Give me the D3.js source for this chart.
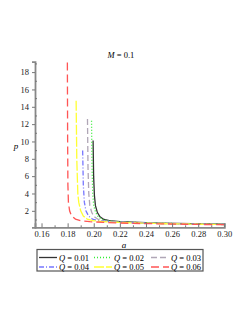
<!DOCTYPE html>
<html>
<head>
<meta charset="utf-8">
<script src="https://cdn.jsdelivr.net/npm/d3@7"></script>
<style>
  body { margin: 0; background: #fff; }
  svg text { font-family: "Liberation Serif", "DejaVu Serif", serif; }
</style>
</head>
<body>
<div id="chart"></div>
<script>
// values, (a, p) pairs per Q
var qLabels = ["0.01", "0.02", "0.03", "0.04", "0.05", "0.06"];
var q001 = [[0.1995,10.1],[0.1999,6],[0.2005,3.8],[0.2013,2.6],[0.2028,1.8],[0.2048,1.3],[0.2078,1.0],[0.212,0.86],[0.22,0.74],[0.25,0.57],[0.30,0.45]];
var q002 = [[0.1983,12.4],[0.1987,7],[0.1992,4],[0.2000,2.6],[0.2015,1.8],[0.2035,1.3],[0.2065,1.0],[0.211,0.85],[0.22,0.72],[0.25,0.56],[0.30,0.44]];
var q003 = [[0.1952,12.6],[0.1956,7],[0.1962,4],[0.1970,2.6],[0.1985,1.8],[0.2005,1.3],[0.2035,1.0],[0.208,0.85],[0.22,0.7],[0.25,0.55],[0.30,0.43]];
var q004 = [[0.1915,8.95],[0.1920,5],[0.1928,3],[0.1940,2.0],[0.1960,1.4],[0.1990,1.05],[0.203,0.88],[0.21,0.78],[0.23,0.62],[0.26,0.5],[0.30,0.42]];
var q005 = [[0.1865,14.7],[0.1870,8],[0.1878,4],[0.1885,3],[0.1900,2.0],[0.1920,1.4],[0.1950,1.05],[0.200,0.85],[0.21,0.72],[0.23,0.6],[0.26,0.5],[0.30,0.42]];
var q006 = [[0.1798,19.1],[0.1800,10],[0.1802,5],[0.1806,3],[0.1815,2.0],[0.1830,1.4],[0.1860,1.05],[0.190,0.85],[0.197,0.75],[0.21,0.65],[0.23,0.55],[0.25,0.5],[0.27,0.45],[0.30,0.4]];
var xTicks = [0.16, 0.18, 0.20, 0.22, 0.24, 0.26, 0.28, 0.30];
var yTicks = [2, 4, 6, 8, 10, 12, 14, 16, 18];

var series = [q001, q002, q003, q004, q005, q006];
var colors = ["#333333", "#33ee33", "#b0a6b6", "#7777ff", "#ffff33", "#ff5555"];
var dashes = ["none", "1,2", "6,3", "5,2,1,2", "10,2", "8,4"];

var width = 249, height = 323;
var svg = d3.select("#chart").append("svg")
    .attr("width", width)
    .attr("height", height);

var x = d3.scaleLinear().domain([0.155, 0.30]).range([35, 224.3]);
var y = d3.scaleLinear().domain([0.1, 19.2]).range([227.3, 61.7]);

// curves first, axes on top
var line = d3.line()
    .x(function(d){ return x(d[0]); })
    .y(function(d){ return y(d[1]); });

svg.selectAll(".curve").data(series).enter()
    .append("path")
    .attr("class", "curve")
    .attr("d", line)
    .attr("fill", "none")
    .attr("stroke", function(d, i){ return colors[i]; })
    .attr("stroke-width", 1.3)
    .attr("stroke-dasharray", function(d, i){ return dashes[i]; });

// x axis
svg.append("g")
    .attr("transform", "translate(0," + y.range()[0] + ")")
    .call(d3.axisBottom(x).tickValues(xTicks).tickSize(-4).tickPadding(4).tickFormat(d3.format(".2f")));
svg.append("g")
    .attr("transform", "translate(0," + y.range()[0] + ")")
    .call(d3.axisBottom(x).tickValues(d3.range(0.17, 0.30, 0.02)).tickSize(-2).tickFormat(""))
    .select(".domain").remove();

// y axis
svg.append("g")
    .attr("transform", "translate(" + x.range()[0] + ",0)")
    .call(d3.axisLeft(y).tickValues(yTicks).tickSize(3).tickPadding(3));
svg.append("g")
    .attr("transform", "translate(" + x.range()[0] + ",0)")
    .call(d3.axisLeft(y).tickValues(d3.range(1, 20, 2)).tickSize(-2).tickFormat(""))
    .select(".domain").remove();

svg.selectAll(".domain").attr("stroke", "#888").attr("stroke-width", 1.8);
svg.selectAll(".tick line").attr("stroke", "#777");
svg.selectAll(".tick text").attr("font-size", 8.5).attr("fill", "#222");
svg.selectAll("g").attr("font-family", null);

// labels
svg.append("text").attr("x", 121).attr("y", 58).attr("text-anchor", "middle")
    .attr("font-size", 8.5)
    .html('<tspan font-style="italic">M</tspan> = 0.1');
svg.append("text").attr("x", 16).attr("y", 149).attr("text-anchor", "middle")
    .attr("font-size", 9).attr("font-style", "italic").text("p");
svg.append("text").attr("x", 124).attr("y", 247.5).attr("text-anchor", "middle")
    .attr("font-size", 9).attr("font-style", "italic").text("a");

// legend
var legend = svg.append("g");
legend.append("rect")
    .attr("x", 37).attr("y", 249.5).attr("width", 166).attr("height", 21.5)
    .attr("fill", "#fff").attr("stroke", "#555").attr("stroke-width", 1.2);

var colX = [38, 93, 150];
var rowY = [257.5, 267];
var item = legend.selectAll(".item").data(qLabels).enter()
    .append("g").attr("class", "item")
    .attr("transform", function(d, i){
        return "translate(" + colX[i % 3] + "," + rowY[Math.floor(i / 3)] + ")";
    });
item.append("line")
    .attr("x1", 1).attr("x2", 19).attr("y1", 0).attr("y2", 0)
    .attr("stroke", function(d, i){ return colors[i]; })
    .attr("stroke-width", 1.3)
    .attr("stroke-dasharray", function(d, i){ return dashes[i]; });
item.append("text")
    .attr("x", 21).attr("y", 3)
    .attr("font-size", 8.5)
    .html(function(d){ return '<tspan font-style="italic">Q</tspan> = ' + d; });
</script>
</body>
</html>
